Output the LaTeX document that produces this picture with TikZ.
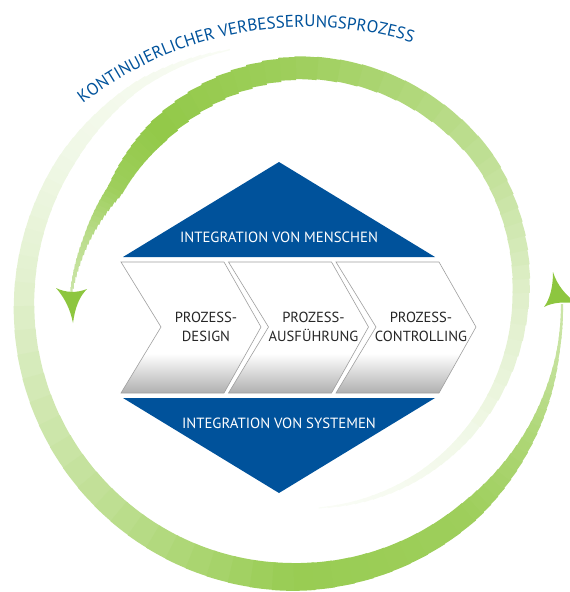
\documentclass[tikz,border=0pt]{standalone}
\usepackage{fontspec}
\setmainfont{PT Sans}
\usetikzlibrary{decorations.text}

\definecolor{kvpblue}{RGB}{0,82,155}
\definecolor{kvpgreen}{RGB}{141,198,63}

% white above, grey towards the lower edge
\pgfdeclareverticalshading{chevshade}{100bp}{color(0bp)=(gray!62); color(25bp)=(gray!62);
  color(40bp)=(white); color(100bp)=(white)}

% tapered arc: #1 centre, #2 list of angle/radius/width/percent pieces
\newcommand{\taperarc}[2]{%
  \foreach \aA/\aB/\rA/\rB/\wA/\wB/\pA/\pB in {#2} {
    \foreach \k in {0,...,9} {
      \pgfmathsetmacro{\sfr}{(\k+0.5)/10}
      \pgfmathsetmacro{\aS}{\aA+((\aB)-(\aA))*\k/10}
      \pgfmathsetmacro{\aE}{\aA+((\aB)-(\aA))*(\k+1)/10+0.4}
      \pgfmathsetmacro{\rad}{\rA+((\rB)-(\rA))*\sfr}
      \pgfmathsetmacro{\wid}{\wA+((\wB)-(\wA))*\sfr}
      \pgfmathsetmacro{\pct}{\pA+((\pB)-(\pA))*\sfr}
      \draw[line width=\wid pt, kvpgreen!\pct!white] (#1) ++(\aS:\rad) arc[start angle=\aS, end angle=\aE, radius=\rad];
    }
  }%
}

\begin{document}
\begin{tikzpicture}[x=1pt,y=1pt,
  chev/.style={draw=gray!75, line width=0.6pt, shading=chevshade},
  tri/.style={fill=kvpblue},
  lbl/.style={text=white, font=\fontsize{14.8}{15}\selectfont, inner sep=0pt},
  steplbl/.style={align=center, text=black!85, font=\fontsize{14.6}{18.5}\selectfont, inner sep=0pt}]
  \useasboundingbox (0,0) rectangle (570,-592);

  \coordinate (ca) at (296,-293);
  \coordinate (cb) at (294,-306);

  % outer loop, ends at the right arrow
  \taperarc{cb}{104/125/264/270/1/9/5/9, 125/147/270/270/9/17/9/13,
    147/175/270/270/17/20/13/25, 175/225/270/270/20/25/25/55,
    225/270/270/271/25/28/55/90, 270/310/271/270/28/22/90/85,
    310/332/270/269/22/11/85/70, 332/350/269/268/11/3/70/50,
    350/360/268/268/3/2/50/45}
  % inner loop, ends at the left arrow
  \taperarc{ca}{-84/-60/216/220/1/6/4/8, -60/-40/220/222/6/10/8/12,
    -40/0/222/225/10/17/12/28, 0/35/225/231/17/20/28/55,
    35/90/231/225/20/23/55/85, 90/130/225/212/23/24/85/95,
    130/150/212/208/24/16/95/85, 150/165/208/216/16/7/85/60,
    165/180/216/225/7/2/60/45}

  % arrow heads
  \fill[kvpgreen] (56,-288) .. controls (66,-293) and (77,-293) .. (87,-289)
    .. controls (79,-297) and (75,-308) .. (73,-323)
    .. controls (70,-308) and (64,-297) .. (56,-288) -- cycle;
  \fill[kvpgreen] (544,-307) .. controls (553,-302) and (565,-302) .. (577,-303)
    .. controls (566,-296) and (557,-285) .. (553,-272)
    .. controls (553,-287) and (550,-299) .. (544,-307) -- cycle;

  % title along the circle
  \path[decorate, decoration={text along path, text align=center, text color=kvpblue,
      text={|\fontsize{17}{17}\selectfont|KONTINUIERLICHER VERBESSERUNGSPROZESS}}]
    (307,-393) ++(131:366) arc[start angle=131, end angle=70, radius=366];

  % diamond
  \fill[tri] (123,-257) -- (279,-162) -- (435,-257) -- cycle;
  \fill[tri] (123,-398) -- (435,-398) -- (279,-493) -- cycle;
  \node[lbl, anchor=base] (menschen) at (279,-242) {INTEGRATION VON MENSCHEN};
  \node[lbl, anchor=base] (systeme) at (279,-428) {INTEGRATION VON SYSTEMEN};

  % process steps
  \foreach \i/\nm/\txt in {0/design/{PROZESS-\\DESIGN}, 1/ausf/{PROZESS-\\AUSFÜHRUNG},
      2/ctrl/{PROZESS-\\CONTROLLING}} {
    \pgfmathsetmacro{\xo}{121+107.5*\i}
    \path[chev] (\xo,-262) -- ++(103,0) -- ++(37,-65) -- ++(-37,-66) -- ++(-103,0) -- ++(40,66) -- cycle;
    \node[steplbl] (\nm) at (\xo+85,-327) {\txt};
  }
\end{tikzpicture}
\end{document}
